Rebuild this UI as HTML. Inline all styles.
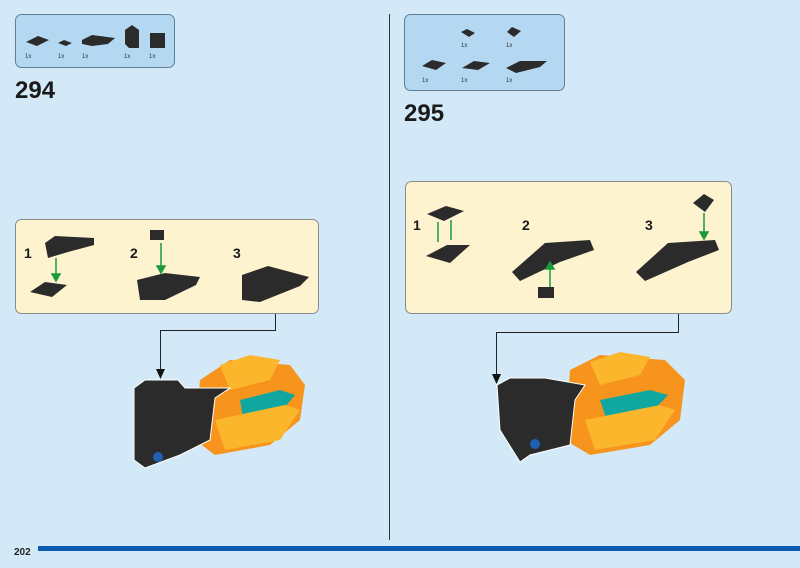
<!DOCTYPE html>
<html><head><meta charset="utf-8"><style>
html,body{margin:0;padding:0;background:#d3e9f8;}
svg{display:block}
text{font-family:"Liberation Sans",sans-serif;}
</style></head><body>
<svg width="800" height="568" viewBox="0 0 800 568" xmlns="http://www.w3.org/2000/svg">
<rect width="800" height="568" fill="#d3e9f8"/>
<line x1="389.5" y1="14" x2="389.5" y2="540" stroke="#333" stroke-width="1"/>
<rect x="38" y="546" width="762" height="5" fill="#0b5cb0"/>
<text x="14" y="555" font-size="10" font-weight="bold" fill="#222">202</text>

<!-- left parts box -->
<rect x="15.5" y="14.5" width="159" height="53" rx="6" fill="#b5d8f2" stroke="#5f7f96"/>
<g fill="#2b2b2b">
<polygon points="26,42 38,36 49,40 37,46"/>
<polygon points="58,43 64,40 72,43 66,46"/>
<polygon points="82,40 92,35 115,38 108,44 92,46 82,44"/>
<polygon points="125,30 132,25 139,30 139,48 129,48 125,44"/>
<rect x="150" y="33" width="15" height="15"/>
</g>
<g font-size="6" fill="#333"><text x="25" y="58">1x</text><text x="58" y="58">1x</text><text x="82" y="58">1x</text><text x="124" y="58">1x</text><text x="149" y="58">1x</text></g>
<text x="15" y="98" font-size="24" font-weight="bold" fill="#1a1a1a">294</text>

<!-- right parts box -->
<rect x="404.5" y="14.5" width="160" height="76" rx="6" fill="#b5d8f2" stroke="#5f7f96"/>
<g fill="#2b2b2b">
<polygon points="461,32 467,29 475,33 469,37"/>
<polygon points="507,32 512,27 521,31 514,37"/>
<polygon points="422,66 432,60 446,63 436,70"/>
<polygon points="462,68 474,61 490,63 478,70"/>
<polygon points="506,68 520,61 547,61 540,67 516,73"/>
</g>
<g font-size="6" fill="#333"><text x="461" y="47">1x</text><text x="506" y="47">1x</text><text x="422" y="82">1x</text><text x="461" y="82">1x</text><text x="506" y="82">1x</text></g>
<text x="404" y="121" font-size="24" font-weight="bold" fill="#1a1a1a">295</text>

<!-- left callout -->
<rect x="15.5" y="219.5" width="303" height="94" rx="6" fill="#fdf3cf" stroke="#8a8a8a"/>
<g font-size="14" font-weight="bold" fill="#1a1a1a"><text x="24" y="258">1</text><text x="130" y="258">2</text><text x="233" y="258">3</text></g>
<g fill="#2b2b2b">
<polygon points="45,243 55,236 94,238 94,245 68,252 48,258"/>
<polygon points="30,292 45,282 67,285 52,297"/>
<rect x="150" y="230" width="14" height="10"/>
<polygon points="137,280 165,273 200,277 196,285 165,300 140,300"/>
<polygon points="242,275 268,266 309,277 300,286 260,302 242,300"/>
</g>
<g stroke="#1a9a3a" stroke-width="1.5" fill="#1a9a3a"><line x1="56" y1="258" x2="56" y2="276"/><polygon points="52,274 60,274 56,281"/><line x1="161" y1="243" x2="161" y2="268"/><polygon points="157,266 165,266 161,273"/></g>

<!-- right callout -->
<rect x="405.5" y="181.5" width="326" height="132" rx="6" fill="#fdf3cf" stroke="#8a8a8a"/>
<g font-size="14" font-weight="bold" fill="#1a1a1a"><text x="413" y="230">1</text><text x="522" y="230">2</text><text x="645" y="230">3</text></g>
<g fill="#2b2b2b">
<polygon points="427,214 446,206 464,211 444,221"/>
<polygon points="426,256 447,245 470,245 450,263"/>
<polygon points="512,272 545,243 590,240 594,250 560,262 520,281"/>
<rect x="538" y="287" width="16" height="11"/>
<polygon points="636,272 668,243 715,240 719,250 688,262 645,281"/>
<polygon points="693,203 704,194 714,200 705,212"/>
</g>
<g stroke="#1a9a3a" stroke-width="1.5" fill="#1a9a3a"><line x1="438" y1="222" x2="438" y2="242"/><line x1="451" y1="220" x2="451" y2="240"/><line x1="550" y1="287" x2="550" y2="267"/><polygon points="546,269 554,269 550,262"/><line x1="704" y1="213" x2="704" y2="234"/><polygon points="700,232 708,232 704,239"/></g>

<!-- connectors -->
<polyline points="275.5,314 275.5,330.5 160.5,330.5 160.5,372" fill="none" stroke="#222"/>
<polygon points="156,369 165,369 160.5,379" fill="#111"/>
<polyline points="678.5,314 678.5,332.5 496.5,332.5 496.5,377" fill="none" stroke="#222"/>
<polygon points="492,374 501,374 496.5,384" fill="#111"/>

<!-- left model -->
<polygon points="200,380 230,360 290,365 305,385 300,420 270,445 215,455 195,440" fill="#f7941d"/>
<polygon points="220,365 250,355 280,360 270,380 230,390" fill="#fbb62b"/>
<polygon points="240,400 280,390 295,395 270,425 245,430" fill="#0fa7a0"/>
<polygon points="215,420 285,405 300,410 280,440 225,450" fill="#fbb62b"/>
<polygon points="134,388 145,380 178,380 185,388 230,388 215,398 210,440 180,455 145,468 134,460" fill="#2b2b2b" stroke="#fff" stroke-width="1"/>
<circle cx="158" cy="457" r="5" fill="#1e5fb4"/>

<!-- right model -->
<polygon points="570,370 600,355 665,360 685,380 680,420 650,445 590,455 565,440" fill="#f7941d"/>
<polygon points="590,362 620,352 650,357 640,375 600,385" fill="#fbb62b"/>
<polygon points="600,400 650,390 668,395 640,425 610,430" fill="#0fa7a0"/>
<polygon points="585,420 660,405 675,410 655,440 595,450" fill="#fbb62b"/>
<polygon points="497,385 510,378 545,378 585,385 575,400 570,445 530,455 520,462 500,430" fill="#2b2b2b" stroke="#fff" stroke-width="1"/>
<circle cx="535" cy="444" r="5" fill="#1e5fb4"/>
</svg>
</body></html>
